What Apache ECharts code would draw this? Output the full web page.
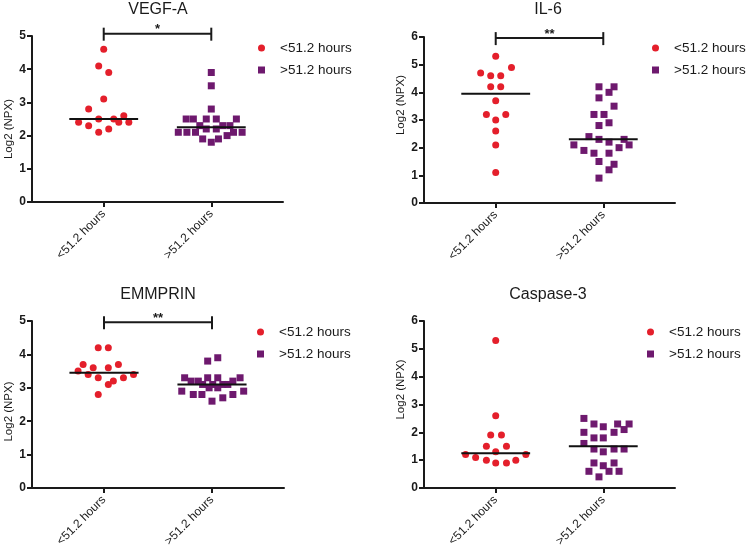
<!DOCTYPE html>
<html><head><meta charset="utf-8">
<script src="https://cdn.jsdelivr.net/npm/echarts@6/dist/echarts.min.js"></script>
<style>html,body{margin:0;padding:0;background:#fff}#c{width:750px;height:554px}</style>
</head><body><div id="c"></div><script>
// ---- data ----
const categories = ['<51.2 hours', '>51.2 hours'];
const catPos = [1, 2.5];
const panelTitles = ['VEGF-A', 'IL-6', 'EMMPRIN', 'Caspase-3'];
const yMaxes = [5, 6, 5, 6];
const yTickStep = 1;

const vegfLow = [4.6, 4.1, 3.9, 3.1, 2.8, 2.5, 2.5, 2.6, 2.4, 2.4, 2.4, 2.3, 2.2, 2.1];
const vegfLowJitter = [0, -0.07, 0.07, 0, -0.21, -0.07, 0.14, 0.28, -0.35, 0.21, 0.35, -0.21, 0.07, -0.07];
const vegfHigh = [3.9, 3.5, 2.8, 2.5, 2.5, 2.5, 2.5, 2.5, 2.3, 2.3, 2.3, 2.2, 2.2, 2.1, 2.1, 2.1, 2.1, 2.1, 2.0, 1.9, 1.9, 1.8];
const vegfHighJitter = [0, 0, 0, -0.35, -0.25, -0.07, 0.07, 0.35, -0.16, 0.16, 0.26, -0.07, 0.07, -0.46, -0.34, -0.22, 0.31, 0.43, 0.22, -0.12, 0.10, 0];

const il6Low = [5.3, 4.9, 4.7, 4.6, 4.6, 4.2, 4.2, 3.7, 3.2, 3.2, 3.0, 2.6, 2.1, 1.1];
const il6LowJitter = [0, 0.22, -0.21, -0.07, 0.07, -0.07, 0.07, 0, -0.13, 0.14, 0, 0, 0, 0];
const il6High = [4.2, 4.2, 4.0, 3.8, 3.5, 3.2, 3.2, 2.9, 2.8, 2.4, 2.3, 2.3, 2.2, 2.1, 2.1, 2.0, 1.9, 1.8, 1.8, 1.5, 1.4, 1.2, 0.9];
const il6HighJitter = [-0.06, 0.15, 0.08, -0.06, 0.15, -0.13, 0.01, 0.08, -0.06, -0.2, -0.06, 0.29, 0.08, -0.41, 0.36, 0.22, -0.27, -0.13, 0.08, -0.06, 0.15, 0.08, -0.06];

const emmLow = [4.2, 4.2, 3.7, 3.7, 3.6, 3.6, 3.5, 3.4, 3.4, 3.3, 3.3, 3.2, 3.1, 2.8];
const emmLowJitter = [-0.08, 0.06, -0.29, 0.2, -0.15, 0.06, -0.36, -0.22, 0.41, -0.08, 0.27, 0.13, 0.06, -0.08];
const emmHigh = [3.9, 3.8, 3.3, 3.3, 3.3, 3.3, 3.2, 3.2, 3.2, 3.1, 3.1, 3.1, 3.1, 3.0, 3.0, 2.9, 2.9, 2.8, 2.8, 2.8, 2.7, 2.6];
const emmHighJitter = [0.08, -0.06, -0.38, -0.06, 0.08, 0.39, -0.29, -0.19, 0.29, -0.13, 0.01, 0.15, 0.22, -0.04, 0.08, -0.42, 0.44, -0.26, -0.14, 0.29, 0.15, 0];

const caspLow = [5.3, 2.6, 1.9, 1.9, 1.5, 1.5, 1.3, 1.2, 1.2, 1.1, 1.0, 1.0, 0.9, 0.9];
const caspLowJitter = [0, 0, -0.07, 0.08, -0.13, 0.15, 0, -0.42, 0.42, -0.28, -0.13, 0.28, 0, 0.15];
const caspHigh = [2.5, 2.3, 2.3, 2.3, 2.2, 2.1, 2.0, 2.0, 1.8, 1.8, 1.6, 1.4, 1.4, 1.4, 1.3, 0.9, 0.9, 0.8, 0.6, 0.6, 0.6, 0.4];
const caspHighJitter = [-0.27, -0.13, 0.2, 0.36, 0, 0.29, -0.27, 0.15, -0.13, 0, -0.27, -0.13, 0.15, 0.29, 0, -0.13, 0.15, 0, -0.2, 0.08, 0.22, -0.06];

const mediansLow = [2.5, 3.95, 3.45, 1.25];
const mediansHigh = [2.25, 2.3, 3.1, 1.5];
const sigBracketY = [5.07, 5.96, 4.96, null];
const sigLabels = ['*', '**', '**', ''];

// ---- layout / style ----
const FONT = "'Liberation Sans', Arial, Helvetica, sans-serif";
const INK = '#1a1a1a';
const RED = '#e41f2b';
const PURPLE = '#6e196e';
const grids = [
  {left: 32, top: 36, width: 251, height: 166},
  {left: 424, top: 37, width: 251, height: 166},
  {left: 32, top: 321, width: 252, height: 167},
  {left: 424, top: 321, width: 251, height: 167}
];
const legendPos = [
  {left: 258, top: 41}, {left: 652, top: 41}, {left: 257, top: 325}, {left: 647, top: 325}
];
const titlePos = [[158, 10], [548, 10], [158, 295], [548, 295]];
const namePad = [[0, 20, 0, 0], [0, 0, 0, 30], [0, 14, 0, 0], [0, 0, 0, 30]];

const lows = [[vegfLow, vegfLowJitter], [il6Low, il6LowJitter], [emmLow, emmLowJitter], [caspLow, caspLowJitter]];
const highs = [[vegfHigh, vegfHighJitter], [il6High, il6HighJitter], [emmHigh, emmHighJitter], [caspHigh, caspHighJitter]];

const xAxes = [], yAxes = [], series = [], legends = [], graphics = [];
for (let p = 0; p < 4; p++) {
  xAxes.push({
    gridIndex: p, type: 'value', min: 0, max: 3.5,
    axisLine: {show: true, lineStyle: {color: INK, width: 2}},
    axisTick: {show: true, customValues: catPos, length: 5, lineStyle: {color: INK, width: 2}},
    axisLabel: {show: true, customValues: catPos, rotate: 45, margin: 10, color: INK, fontSize: 12, fontFamily: FONT,
      formatter: v => { const i = catPos.indexOf(v); return i >= 0 ? categories[i] : ''; }},
    splitLine: {show: false}
  });
  yAxes.push({
    gridIndex: p, type: 'value', min: 0, max: yMaxes[p], interval: yTickStep,
    name: 'Log2 (NPX)', nameLocation: 'middle', nameGap: 17,
    nameTextStyle: {color: INK, fontSize: 11.5, fontFamily: FONT, padding: namePad[p]},
    axisLine: {show: true, lineStyle: {color: INK, width: 2}},
    axisTick: {show: true, length: 5, lineStyle: {color: INK, width: 2}},
    axisLabel: {color: INK, fontSize: 12, fontWeight: 'bold', fontFamily: FONT, margin: 6},
    splitLine: {show: false}
  });
  const groups = [lows[p], highs[p]];
  const colors = [RED, PURPLE];
  const symbols = ['circle', 'rect'];
  const meds = [mediansLow[p], mediansHigh[p]];
  for (let g = 0; g < 2; g++) {
    const vals = groups[g][0], jit = groups[g][1];
    series.push({
      type: 'scatter', name: categories[g], xAxisIndex: p, yAxisIndex: p,
      symbol: symbols[g], symbolSize: 7, itemStyle: {color: colors[g], opacity: 1},
      data: vals.map((v, i) => [catPos[g] + jit[i], v]), z: 2
    });
    series.push({
      type: 'line', xAxisIndex: p, yAxisIndex: p, symbol: 'none', silent: true,
      lineStyle: {color: '#111', width: 2}, z: 3,
      data: [[catPos[g] - 0.48, meds[g]], [catPos[g] + 0.48, meds[g]]]
    });
  }
  if (sigBracketY[p] != null) {
    series.push({
      type: 'custom', xAxisIndex: p, yAxisIndex: p, clip: false, silent: true, z: 4,
      data: [[catPos[0], catPos[1], sigBracketY[p]]],
      encode: {x: [0, 1], y: 2},
      renderItem: (params, api) => {
        const y = api.value(2);
        const a = api.coord([api.value(0), y]);
        const b = api.coord([api.value(1), y]);
        const ls = {stroke: INK, lineWidth: 2};
        return {type: 'group', children: [
          {type: 'line', shape: {x1: a[0], y1: a[1], x2: b[0], y2: b[1]}, style: ls},
          {type: 'line', shape: {x1: a[0], y1: a[1] - 6, x2: a[0], y2: a[1] + 7}, style: ls},
          {type: 'line', shape: {x1: b[0], y1: b[1] - 6, x2: b[0], y2: b[1] + 7}, style: ls},
          {type: 'text', style: {text: sigLabels[p], x: (a[0] + b[0]) / 2, y: a[1] - 4, align: 'center', verticalAlign: 'middle',
            font: 'bold 13px ' + FONT, fill: INK}}
        ]};
      }
    });
  }
  legends.push({
    orient: 'vertical', left: legendPos[p].left, top: legendPos[p].top, padding: 0,
    itemWidth: 7, itemHeight: 7, itemGap: 8, data: categories, selectedMode: false,
    textStyle: {fontSize: 13.5, fontFamily: FONT, color: INK, padding: [0, 0, 0, 10]}
  });
  graphics.push({
    type: 'text', x: titlePos[p][0], y: titlePos[p][1],
    style: {text: panelTitles[p], align: 'center', verticalAlign: 'middle', font: '16px ' + FONT, fill: INK}
  });
}

const chart = echarts.init(document.getElementById('c'), null, {renderer: 'canvas'});
chart.setOption({
  animation: false,
  backgroundColor: '#ffffff',
  grid: grids,
  xAxis: xAxes,
  yAxis: yAxes,
  legend: legends,
  graphic: graphics,
  series: series
});
</script></body></html>
